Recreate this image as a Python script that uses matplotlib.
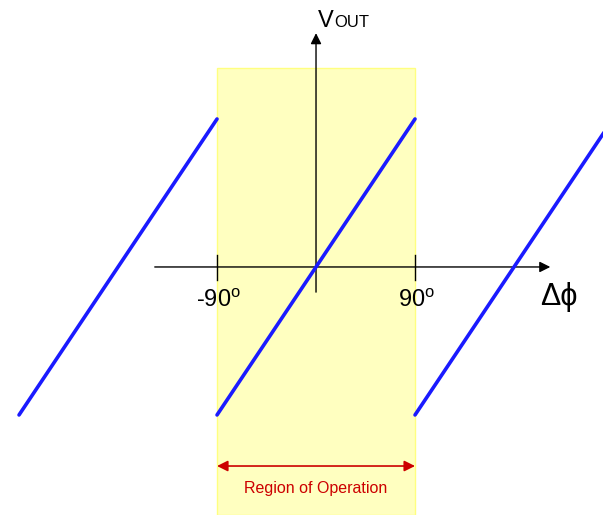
import numpy as np
import matplotlib.pyplot as plt

plt.rcParams['font.family'] = ['Liberation Sans', 'DejaVu Sans']
plt.rcParams['mathtext.fontset'] = 'custom'
plt.rcParams['mathtext.rm'] = 'Liberation Sans'

# transfer characteristic: three sawtooth segments (phase in degrees, Vout normalised)
seg_phase = [[-270, -90], [-90, 90], [90, 270]]
seg_vout = [[-1, 1], [-1, 1], [-1, 1]]

tick_pos = [-90, 90]
tick_labels = ['-90$^{\\mathrm{o}}$', '90$^{\\mathrm{o}}$']
region = [-90, 90]

x_lim = (-287.3, 260.9)
y_lim = (-1.676, 1.804)
band_top = 1.345

fig = plt.figure(figsize=(6.03, 5.15), dpi=100)
ax = fig.add_axes([0, 0, 1, 1])
ax.set_xlim(*x_lim)
ax.set_ylim(*y_lim)
ax.axis('off')

# region of operation band
ax.axvspan(region[0], region[1], ymin=0,
           ymax=(band_top - y_lim[0]) / (y_lim[1] - y_lim[0]),
           facecolor='#ffffc0', edgecolor='#ffff80', lw=1, zorder=0)

# axes with arrows
ax.annotate('', xy=(213, 0), xytext=(-146.6, 0),
            arrowprops=dict(arrowstyle='-|>', color='black', lw=1, mutation_scale=16,
                            shrinkA=0, shrinkB=0))
ax.annotate('', xy=(0, 1.58), xytext=(0, -0.17),
            arrowprops=dict(arrowstyle='-|>', color='black', lw=1, mutation_scale=16,
                            shrinkA=0, shrinkB=0))
for t, lab in zip(tick_pos, tick_labels):
    ax.plot([t, t], [0.08, -0.09], color='black', lw=1)
    ax.text(t + 1, -0.15, lab, ha='center', va='top', fontsize=17)

for xs, ys in zip(seg_phase, seg_vout):
    ax.plot(xs, ys, color='#1a1aff', lw=2.6, solid_capstyle='round', zorder=3)

ax.text(2, 1.62, 'V', fontsize=17, ha='left', va='baseline')
ax.text(17, 1.62, 'OUT', fontsize=12, ha='left', va='baseline')
ax.text(221, -0.26, 'Δϕ', fontsize=22, ha='center', va='baseline')

# region arrow
ax.annotate('', xy=(region[1], -1.345), xytext=(region[0], -1.345),
            arrowprops=dict(arrowstyle='<|-|>', color='#cc0000', lw=1.2, mutation_scale=16,
                            shrinkA=0, shrinkB=0))
ax.text(0, -1.525, 'Region of Operation', color='#cc0000', fontsize=11.5,
        ha='center', va='baseline')

fig.savefig('out.png', dpi=100)
